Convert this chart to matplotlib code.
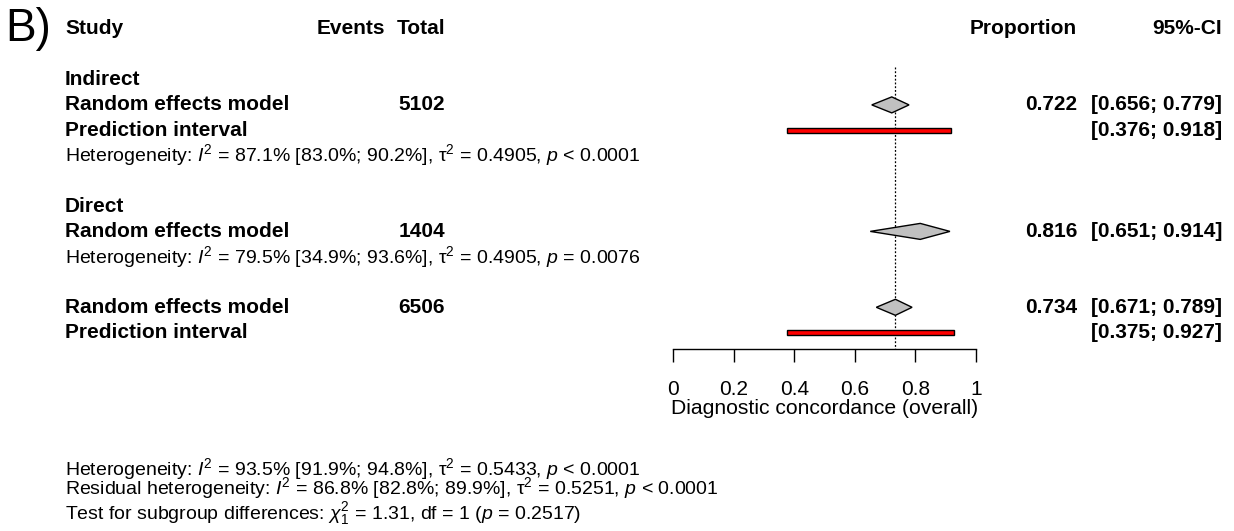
import matplotlib
matplotlib.use("Agg")
import matplotlib.pyplot as plt
import matplotlib.transforms as mtransforms
import matplotlib.patches as patches

plt.rcParams['font.family'] = ['Liberation Sans', 'DejaVu Sans']
plt.rcParams['mathtext.fontset'] = 'custom'
plt.rcParams['mathtext.rm'] = 'Liberation Sans'
plt.rcParams['mathtext.it'] = 'Liberation Sans:italic'
plt.rcParams['mathtext.bf'] = 'Liberation Sans:bold'

# data
group_names = ["Indirect", "Direct"]
model_labels = ["Random effects model", "Random effects model", "Random effects model"]
totals = [5102, 1404, 6506]
est = [0.722, 0.816, 0.734]
ci_lo = [0.656, 0.651, 0.671]
ci_hi = [0.779, 0.914, 0.789]
pi_lo = [0.376, None, 0.375]
pi_hi = [0.918, None, 0.927]
ticks = [0, 0.2, 0.4, 0.6, 0.8, 1]
tick_labels = ["0", "0.2", "0.4", "0.6", "0.8", "1"]
het_group = [
    r"Heterogeneity: $\mathit{I}^2$ = 87.1% [83.0%; 90.2%], τ$^2$ = 0.4905, $\mathit{p}$ < 0.0001",
    r"Heterogeneity: $\mathit{I}^2$ = 79.5% [34.9%; 93.6%], τ$^2$ = 0.4905, $\mathit{p}$ = 0.0076",
]
het_overall = [
    r"Heterogeneity: $\mathit{I}^2$ = 93.5% [91.9%; 94.8%], τ$^2$ = 0.5433, $\mathit{p}$ < 0.0001",
    r"Residual heterogeneity: $\mathit{I}^2$ = 86.8% [82.8%; 89.9%], τ$^2$ = 0.5251, $\mathit{p}$ < 0.0001",
    r"Test for subgroup differences: $\chi^2_1$ = 1.31, df = 1 ($\mathit{p}$ = 0.2517)",
]

# row layout (row index -> vertical position)
group_rows = [2, 7]
model_rows = [3, 8, 11]
pi_rows = [4, None, 12]
het_rows = [5, 9]
overall_het_rows = [17.4, 18.15, 19.15]
W, H = 1234, 531
row0, row_h = 29, 25.3
axis_px = 349

fig = plt.figure(figsize=(W / 100, H / 100), dpi=100)
ax = fig.add_axes([673 / W, (H - axis_px) / H, 303 / W, axis_px / H])
ax.set_xlim(0, 1)
ax.set_ylim((axis_px - row0) / row_h, -row0 / row_h)
for s in ['left', 'right', 'top']:
    ax.spines[s].set_visible(False)
ax.spines['bottom'].set_linewidth(1)
ax.set_yticks([])
ax.set_xticks(ticks)
ax.set_xticklabels(tick_labels, fontsize=15)
ax.tick_params(axis='x', length=9, width=1, pad=13)
ax.set_xlabel("Diagnostic concordance (overall)", fontsize=15.2, labelpad=0)

tr = mtransforms.blended_transform_factory(fig.transFigure, ax.transData)
bold = dict(fontsize=15, fontweight='bold', va='center', transform=tr, clip_on=False)
norm = dict(fontsize=14, va='center', transform=tr, clip_on=False)

# reference line at overall estimate
ax.plot([est[2], est[2]], [1.5, ax.get_ylim()[0]], color='black', linestyle=(0, (1.5, 1.5)), lw=0.9)

# header
fig.text(5 / W, 1 - 29 / H, "B)", fontsize=33, va='center', ha='left')
ax.text(65 / W, 0, "Study", ha='left', **bold)
ax.text(385 / W, 0, "Events", ha='right', **bold)
ax.text(445 / W, 0, "Total", ha='right', **bold)
ax.text(1077 / W, 0, "Proportion", ha='right', **bold)
ax.text(1222 / W, 0, "95%-CI", ha='right', **bold)

for name, r in zip(group_names, group_rows):
    ax.text(65 / W, r, name, ha='left', **bold)
for txt, r in zip(het_group, het_rows):
    ax.text(65 / W, r, txt, ha='left', **norm)

dh = 8 / row_h
for i, r in enumerate(model_rows):
    ax.text(65 / W, r, model_labels[i], ha='left', **bold)
    ax.text(445 / W, r, str(totals[i]), ha='right', **bold)
    ax.text(1077 / W, r, f"{est[i]:.3f}", ha='right', **bold)
    ax.text(1222 / W, r, f"[{ci_lo[i]:.3f}; {ci_hi[i]:.3f}]", ha='right', **bold)
    ax.fill([ci_lo[i], est[i], ci_hi[i], est[i]], [r, r - dh, r, r + dh],
            facecolor='#c0c0c0', edgecolor='black', lw=1, zorder=3, clip_on=False)
    pr = pi_rows[i]
    if pr is not None:
        ax.text(65 / W, pr, "Prediction interval", ha='left', **bold)
        ax.text(1222 / W, pr, f"[{pi_lo[i]:.3f}; {pi_hi[i]:.3f}]", ha='right', **bold)
        bh = 5 / row_h
        ax.add_patch(patches.Rectangle((pi_lo[i], pr - bh / 2), pi_hi[i] - pi_lo[i], bh,
                                       facecolor='#ff0000', edgecolor='black', lw=1, zorder=3,
                                       clip_on=False))

for txt, r in zip(het_overall, overall_het_rows):
    ax.text(65 / W, r, txt, ha='left', **norm)

fig.savefig("out.png", dpi=100)
